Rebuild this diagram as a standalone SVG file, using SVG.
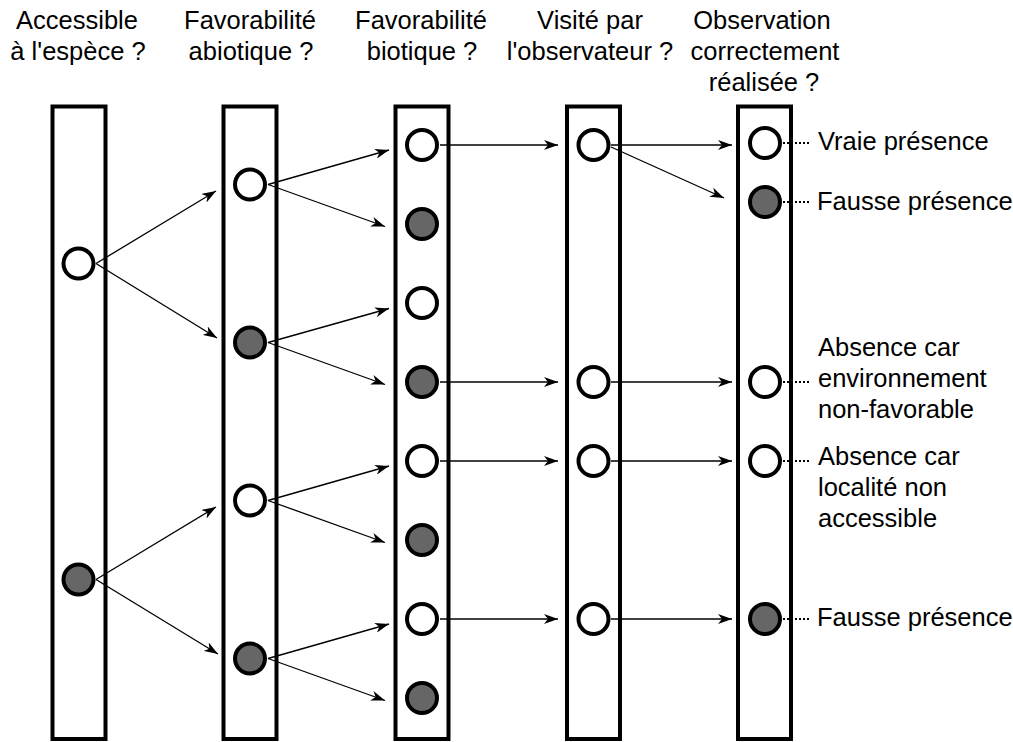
<svg xmlns="http://www.w3.org/2000/svg" width="1013" height="742" viewBox="0 0 1013 742">
<style>
.col{fill:#fff;stroke:#000;stroke-width:4}
.o{fill:#fff;stroke:#000;stroke-width:4}
.f{fill:#666;stroke:#000;stroke-width:4}
.a{stroke:#000;stroke-width:1.3;fill:none;marker-end:url(#ah)}
.d{stroke:#000;stroke-width:2.2;stroke-dasharray:2 2;fill:none}
text{font-family:"Liberation Sans",Arial,sans-serif;font-size:25.5px;fill:#000}
.h{text-anchor:middle}
</style>
<defs>
<marker id="ah" markerUnits="userSpaceOnUse" viewBox="0 0 14 10" refX="14" refY="5" markerWidth="14" markerHeight="10" orient="auto">
<path d="M0,0 L14,5 L0,10 L4,5 Z" fill="#000"/>
</marker>
</defs>
<g id="headers">
<text class="h" x="77" y="29">Accessible</text>
<text class="h" x="78" y="60">à l'espèce ?</text>
<text class="h" x="250" y="29">Favorabilité</text>
<text class="h" x="251" y="60">abiotique ?</text>
<text class="h" x="421" y="29">Favorabilité</text>
<text class="h" x="422" y="60">biotique ?</text>
<text class="h" x="590" y="29">Visité par</text>
<text class="h" x="590" y="60">l'observateur ?</text>
<text class="h" x="762" y="29">Observation</text>
<text class="h" x="765" y="60">correctement</text>
<text class="h" x="764" y="91">réalisée ?</text>
</g>
<g id="col1"><rect class="col" x="52.5" y="106.5" width="53" height="632.5"/>
<circle class="o" cx="78.5" cy="263.5" r="15"/><circle class="f" cx="78.5" cy="579.5" r="15"/></g>
<g id="col2"><rect class="col" x="223.5" y="106.5" width="53" height="632.5"/>
<circle class="o" cx="250" cy="184.5" r="15"/><circle class="f" cx="250" cy="342.5" r="15"/>
<circle class="o" cx="250" cy="500.5" r="15"/><circle class="f" cx="250" cy="658.5" r="15"/></g>
<g id="col3"><rect class="col" x="395.5" y="106.5" width="53" height="632.5"/>
<circle class="o" cx="422" cy="145" r="15"/><circle class="f" cx="422" cy="224" r="15"/>
<circle class="o" cx="422" cy="303" r="15"/><circle class="f" cx="422" cy="382" r="15"/>
<circle class="o" cx="422" cy="461" r="15"/><circle class="f" cx="422" cy="540" r="15"/>
<circle class="o" cx="422" cy="619" r="15"/><circle class="f" cx="422" cy="698" r="15"/></g>
<g id="col4"><rect class="col" x="567" y="106.5" width="53" height="632.5"/>
<circle class="o" cx="593.5" cy="145" r="15"/><circle class="o" cx="593.5" cy="382" r="15"/>
<circle class="o" cx="593.5" cy="461" r="15"/><circle class="o" cx="593.5" cy="619" r="15"/></g>
<g id="col5"><rect class="col" x="738" y="106.5" width="53" height="632.5"/>
<circle class="o" cx="765" cy="143" r="15"/><circle class="f" cx="765" cy="202" r="15"/>
<circle class="o" cx="765" cy="382" r="15"/><circle class="o" cx="765" cy="461" r="15"/>
<circle class="f" cx="765" cy="619" r="15"/></g>
<g id="connectors">
<line class="a" x1="96" y1="263.5" x2="216" y2="191"/>
<line class="a" x1="96" y1="263.5" x2="217" y2="338"/>
<line class="a" x1="96" y1="579.5" x2="216" y2="507"/>
<line class="a" x1="96" y1="579.5" x2="218" y2="654"/>
<line class="a" x1="268" y1="184.5" x2="389" y2="150"/>
<line class="a" x1="268" y1="184.5" x2="385" y2="226.5"/>
<line class="a" x1="268" y1="342.5" x2="389" y2="308.5"/>
<line class="a" x1="268" y1="342.5" x2="385" y2="384.5"/>
<line class="a" x1="268" y1="500.5" x2="389" y2="466"/>
<line class="a" x1="268" y1="500.5" x2="385" y2="542.5"/>
<line class="a" x1="268" y1="658.5" x2="389" y2="624"/>
<line class="a" x1="268" y1="658.5" x2="385" y2="700.5"/>
<line class="a" x1="440" y1="145" x2="558" y2="145"/>
<line class="a" x1="440" y1="382" x2="558" y2="382"/>
<line class="a" x1="440" y1="461" x2="558" y2="461"/>
<line class="a" x1="440" y1="619" x2="558" y2="619"/>
<line class="a" x1="611" y1="145" x2="732" y2="145"/>
<line class="a" x1="611" y1="147" x2="724" y2="198"/>
<line class="a" x1="611" y1="382" x2="732" y2="382"/>
<line class="a" x1="611" y1="461" x2="732" y2="461"/>
<line class="a" x1="611" y1="619" x2="732" y2="619"/>
<line class="d" x1="783" y1="143" x2="811" y2="143"/>
<line class="d" x1="783" y1="202" x2="811" y2="202"/>
<line class="d" x1="783" y1="382" x2="811" y2="382"/>
<line class="d" x1="783" y1="461" x2="811" y2="461"/>
<line class="d" x1="783" y1="619" x2="811" y2="619"/>
</g>
<g id="labels">
<text x="818" y="150">Vraie présence</text>
<text x="817" y="210">Fausse présence</text>
<text x="818" y="356">Absence car</text>
<text x="818" y="387">environnement</text>
<text x="818" y="418">non-favorable</text>
<text x="818" y="465">Absence car</text>
<text x="818" y="496">localité non</text>
<text x="818" y="527">accessible</text>
<text x="817" y="626">Fausse présence</text>
</g>
</svg>
